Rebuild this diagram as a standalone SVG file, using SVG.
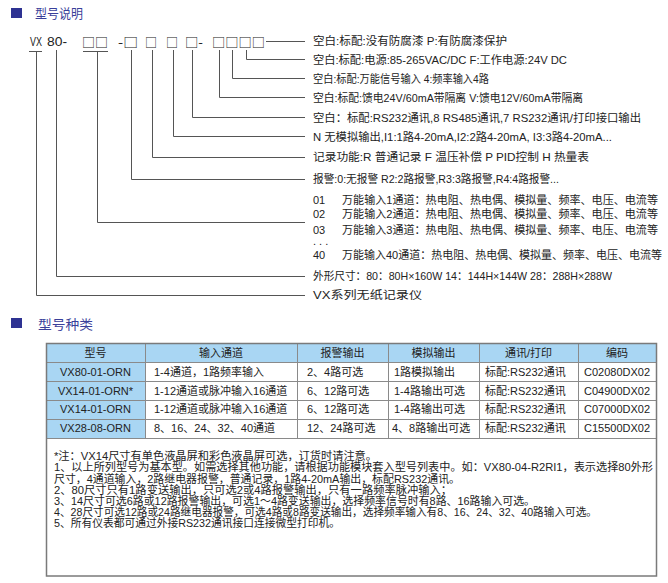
<svg xmlns="http://www.w3.org/2000/svg" width="668" height="583" viewBox="0 0 668 583">
<style>
.h{font-family:"Noto Sans CJK SC","Liberation Sans",sans-serif;font-size:13px;fill:#3a3f9a}
.sq{fill:#2e3292}
.code{font-family:"Liberation Sans","Noto Sans CJK SC",sans-serif;font-size:12px;fill:#222}
.box{font-family:"Noto Sans CJK SC",sans-serif;font-size:13px;fill:#222}
.t{font-family:"Liberation Sans","Noto Sans CJK SC",sans-serif;font-size:11px;fill:#222}
.c{text-anchor:middle}
.ln{stroke:#555;stroke-width:1;fill:none}
.tb{stroke:#8a8a8a;stroke-width:1;fill:none}
.hd{fill:#a9d6f3}
</style>
<rect width="668" height="583" fill="#fff"/>
<g id="heading1">
<rect class="sq" x="11" y="8" width="11" height="10"/>
<text class="h" x="35" y="18" textLength="48" lengthAdjust="spacingAndGlyphs">型号说明</text>
</g>
<g id="model-code">
<text class="code" x="30" y="46" textLength="12" lengthAdjust="spacingAndGlyphs">VX</text>
<text class="code" x="47" y="46" textLength="20" lengthAdjust="spacingAndGlyphs">80-</text>
<text class="box" x="82" y="47" textLength="26" lengthAdjust="spacingAndGlyphs">□□</text>
<text class="box" x="118" y="47" textLength="20" lengthAdjust="spacingAndGlyphs">-□</text>
<text class="box" x="145" y="47" textLength="12" lengthAdjust="spacingAndGlyphs">□</text>
<text class="box" x="166" y="47" textLength="12" lengthAdjust="spacingAndGlyphs">□</text>
<text class="box" x="185" y="47" textLength="18" lengthAdjust="spacingAndGlyphs">□-</text>
<text class="box" x="212" y="47" textLength="53" lengthAdjust="spacingAndGlyphs">□□□□</text>
</g>
<g id="connectors">
<path class="ln" d="M29 51.5H42M83 51.5H108"/>
<path class="ln" d="M266 41.5H305"/>
<path class="ln" d="M246.5 50V59.5H305"/>
<path class="ln" d="M232.5 50V78.5H305"/>
<path class="ln" d="M219.5 50V97.5H305"/>
<path class="ln" d="M192.5 50V117.5H305"/>
<path class="ln" d="M173.5 50V136.5H305"/>
<path class="ln" d="M152.5 50V157.5H305"/>
<path class="ln" d="M131.5 50V179.5H305"/>
<path class="ln" d="M97.5 51V222.5H305"/>
<path class="ln" d="M56.5 50V276.5H305"/>
<path class="ln" d="M36.5 51V295.5H305"/>
</g>
<g id="labels">
<text class="t" x="313" y="45" textLength="194" lengthAdjust="spacingAndGlyphs">空白:标配:没有防腐漆 P:有防腐漆保护</text>
<text class="t" x="313" y="64" textLength="254" lengthAdjust="spacingAndGlyphs">空白:标配:电源:85-265VAC/DC  F:工作电源:24V DC</text>
<text class="t" x="313" y="83" textLength="176" lengthAdjust="spacingAndGlyphs">空白:标配:万能信号输入 4:频率输入4路</text>
<text class="t" x="313" y="102" textLength="270" lengthAdjust="spacingAndGlyphs">空白:标配:馈电24V/60mA带隔离 V:馈电12V/60mA带隔离</text>
<text class="t" x="313" y="122" textLength="328" lengthAdjust="spacingAndGlyphs">空白：标配:RS232通讯,8 RS485通讯,7 RS232通讯/打印接口输出</text>
<text class="t" x="313" y="141" textLength="299" lengthAdjust="spacingAndGlyphs">N 无模拟输出,I1:1路4-20mA,I2:2路4-20mA, I3:3路4-20mA...</text>
<text class="t" x="313" y="161" textLength="276" lengthAdjust="spacingAndGlyphs">记录功能:R 普通记录 F 温压补偿 P PID控制 H 热量表</text>
<text class="t" x="313" y="183" textLength="246" lengthAdjust="spacingAndGlyphs">报警:0:无报警 R2:2路报警,R3:3路报警,R4:4路报警...</text>
<text class="t" x="313" y="204">01</text>
<text class="t" x="342" y="204" textLength="316" lengthAdjust="spacingAndGlyphs">万能输入1通道：热电阻、热电偶、模拟量、频率、电压、电流等</text>
<text class="t" x="313" y="218">02</text>
<text class="t" x="342" y="218" textLength="316" lengthAdjust="spacingAndGlyphs">万能输入2通道：热电阻、热电偶、模拟量、频率、电压、电流等</text>
<text class="t" x="313" y="234">03</text>
<text class="t" x="342" y="234" textLength="316" lengthAdjust="spacingAndGlyphs">万能输入3通道：热电阻、热电偶、模拟量、频率、电压、电流等</text>
<text class="t" x="313" y="245" font-size="9">. . .</text>
<text class="t" x="313" y="259">40</text>
<text class="t" x="342" y="259" textLength="320" lengthAdjust="spacingAndGlyphs">万能输入40通道：热电阻、热电偶、模拟量、频率、电压、电流等</text>
<text class="t" x="313" y="280" textLength="299" lengthAdjust="spacingAndGlyphs">外形尺寸：80：80H×160W 14：144H×144W 28：288H×288W</text>
<text class="t" x="313" y="299" textLength="109" lengthAdjust="spacingAndGlyphs">VX系列无纸记录仪</text>
</g>
<g id="heading2">
<rect class="sq" x="11" y="318" width="11" height="10"/>
<text class="h" x="38" y="329" font-size="13.5" textLength="55" lengthAdjust="spacingAndGlyphs">型号种类</text>
</g>
<g id="table">
<rect class="hd" x="46" y="343" width="610" height="19"/>
<rect class="hd" x="46" y="362" width="99" height="76"/>
<path class="tb" d="M46.5 362.5H656M46.5 381.5H656M46.5 400.5H656M46.5 419.5H656M46.5 438.5H656"/>
<path class="tb" d="M145.5 343V438M297.5 343V438M388.5 343V438M479.5 343V438M578.5 343V438"/>
<rect x="46.5" y="343.5" width="610" height="232.5" fill="none" stroke="#7a7a7a" stroke-width="1.5"/>
<text class="t c" x="95.5" y="357">型号</text>
<text class="t c" x="221" y="357">输入通道</text>
<text class="t c" x="342.5" y="357">报警输出</text>
<text class="t c" x="433.5" y="357">模拟输出</text>
<text class="t c" x="528.5" y="357">通讯/打印</text>
<text class="t c" x="617" y="357">编码</text>
<text class="t c" x="95.5" y="376">VX80-01-ORN</text>
<text class="t" x="154" y="376">1-4通道，1路频率输入</text>
<text class="t" x="307" y="376">2、4路可选</text>
<text class="t" x="394" y="376">1路模拟输出</text>
<text class="t" x="485" y="376">标配:RS232通讯</text>
<text class="t c" x="617" y="376">C02080DX02</text>
<text class="t c" x="95.5" y="395">VX14-01-ORN*</text>
<text class="t" x="154" y="395">1-12通道或脉冲输入16通道</text>
<text class="t" x="307" y="395">6、12路可选</text>
<text class="t" x="394" y="395">1-4路输出可选</text>
<text class="t" x="485" y="395">标配:RS232通讯</text>
<text class="t c" x="617" y="395">C04900DX02</text>
<text class="t c" x="95.5" y="413">VX14-01-ORN</text>
<text class="t" x="154" y="413">1-12通道或脉冲输入16通道</text>
<text class="t" x="307" y="413">6、12路可选</text>
<text class="t" x="394" y="413">1-4路输出可选</text>
<text class="t" x="485" y="413">标配:RS232通讯</text>
<text class="t c" x="617" y="413">C07000DX02</text>
<text class="t c" x="95.5" y="432">VX28-08-ORN</text>
<text class="t" x="154" y="432">8、16、24、32、40通道</text>
<text class="t" x="307" y="432">12、24路可选</text>
<text class="t" x="392" y="432">4、8路输出可选</text>
<text class="t" x="485" y="432">标配:RS232通讯</text>
<text class="t c" x="617" y="432">C15500DX02</text>
</g>
<g id="notes">
<text class="t" x="54" y="460" textLength="323" lengthAdjust="spacingAndGlyphs">*注：VX14尺寸有单色液晶屏和彩色液晶屏可选，订货时请注意。</text>
<text class="t" x="54" y="471" textLength="599" lengthAdjust="spacingAndGlyphs">1、以上所列型号为基本型。如需选择其他功能，请根据功能模块套入型号列表中。如：VX80-04-R2RI1，表示选择80外形</text>
<text class="t" x="54" y="483" textLength="406" lengthAdjust="spacingAndGlyphs">尺寸，4通道输入，2路继电器报警，普通记录，1路4-20mA输出，标配RS232通讯。</text>
<text class="t" x="54" y="494" textLength="398" lengthAdjust="spacingAndGlyphs">2、80尺寸只有1路变送输出，只可选2或4路报警输出，只有一路频率脉冲输入；</text>
<text class="t" x="54" y="505" textLength="481" lengthAdjust="spacingAndGlyphs">3、14尺寸可选6路或12路报警输出，可选1～4路变送输出，选择频率信号时有8路、16路输入可选。</text>
<text class="t" x="54" y="516" textLength="543" lengthAdjust="spacingAndGlyphs">4、28尺寸可选12路或24路继电器报警，可选4路或8路变送输出，选择频率输入有8、16、24、32、40路输入可选。</text>
<text class="t" x="54" y="527" textLength="286" lengthAdjust="spacingAndGlyphs">5、所有仪表都可通过外接RS232通讯接口连接微型打印机。</text>
</g>
</svg>
